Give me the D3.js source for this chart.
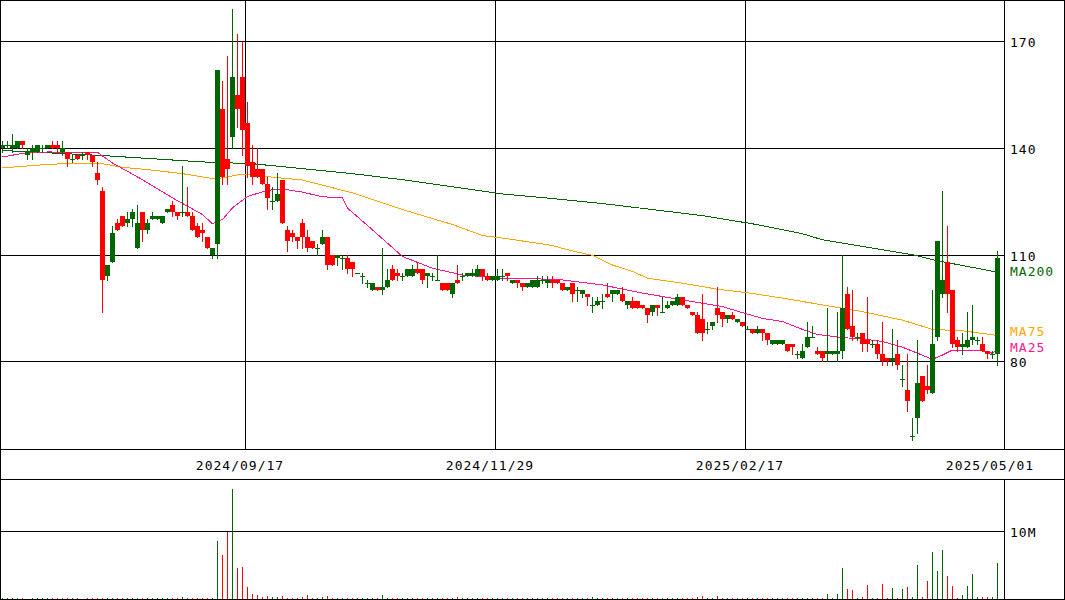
<!DOCTYPE html>
<html>
<head>
<meta charset="utf-8">
<script src="https://cdn.jsdelivr.net/npm/d3@7"></script>
<style>
  html, body { margin: 0; padding: 0; background: #fff; }
  svg { display: block; }
  text { font-family: "DejaVu Sans Mono", monospace; font-size: 13px; letter-spacing: 1px; }
</style>
</head>
<body>
<svg id="chart" width="1065" height="600"></svg>
<script>
// Daily OHLC prices (yen), oldest first
const openP = [
  140,141,140,140,142,138,139,139,140,140, 141,141,139,139,137,138,138,139,138,133,
  128,104,108,119,121,119,120,112,122,117, 120,120,119,122,124,122,122,122,121,118,
  117,115,110,113,151,137,143,155,160,147, 136,134,134,130,125,125,131,117,116,115,
  119,115,114,112,113,115,110,109,109,109, 108,105,104,102,100,101,100,101,106,105,
  104,104,104,106,106,104,104,103,102,102,  99,103,104,104,104,104,106,104,103,103,
  104,105,102,103,102,101,101,101,103,102, 103,103,102,100,102,100, 99, 99, 96, 96,
   97, 99, 99, 99, 99, 96, 97, 97, 96, 95,  94, 96, 94, 95, 96, 96, 98, 96, 94, 93,
   92, 89, 90, 95, 94, 92, 93, 91, 91, 89,  89, 88, 89, 88, 85, 85, 85, 85, 85, 82,
   81, 84, 87, 83, 83, 82, 82, 82, 83, 99,  90, 87, 88, 86, 85, 85, 82, 81, 80, 82,
   75, 72, 59, 64, 76, 73, 71, 87, 99,108, 100, 86, 84, 84, 86, 86, 85, 83, 82, 82
];
const highP = [
  142,142,144,142,142,140,141,141,141,141, 142,142,142,139,138,138,139,139,138,136,
  129,107,118,120,121,122,123,124,122,120, 122,121,121,123,125,122,135,129,122,119,
  119,115,112,162,159,166,179,172,170,153, 141,140,134,132,129,133,131,118,117,115,
  120,117,114,113,117,115,110,110,110,110, 108,105,105,103,102,101,112,106,107,106,
  105,106,107,108,106,105,105,110,102,102, 102,107,105,105,106,107,106,105,104,106,
  106,105,103,103,102,102,103,104,104,104, 104,103,102,101,102,101,100, 99, 98, 98,
   99,102,100,100,101, 97, 98, 97, 96, 95,  96, 96, 98, 97, 97, 99, 98, 96, 94, 94,
   99, 91, 91,101, 94, 93, 94, 92, 91, 90,  89, 90, 89, 88, 86, 86, 86, 85, 85, 83,
   85, 91, 90, 84, 83, 95, 83, 94,110,101, 100, 88, 88, 98, 86, 86, 91, 81, 89, 86,
   79, 82, 64, 86, 76, 79,100,114,128,118, 100, 87, 88, 94, 96, 87, 87, 83, 83,111
];
const lowP = [
  139,140,139,140,140,137,137,139,139,140, 140,139,138,135,136,137,137,137,135,130,
   94,103,108,117,118,118,118,112,114,116, 120,120,119,122,121,120,121,121,117,115,
  114,112,109,109,130,130,140,146,138,132, 130,132,130,123,123,125,119,111,114,112,
  112,111,112,110,113,106,107,107,106,105, 104,105,102,101,100,100, 99,101,103,103,
  103,104,104,105,102,101,103,103,100,100,  98,102,103,104,104,104,103,103,103,103,
  103,103,102,101,100,101,101,101,102,101, 101,102,100,100, 97, 97, 98, 96, 94, 96,
   95, 98, 97, 99, 97, 95, 95, 95, 95, 91,  93, 93, 94, 95, 96, 96, 96, 95, 93, 88,
   86, 88, 89, 91, 90, 91, 92, 91, 90, 89,  88, 88, 86, 85, 85, 85, 85, 83, 82, 81,
   81, 84, 87, 82, 80, 80, 82, 80, 81, 89,  86, 86, 83, 83, 84, 81, 79, 79, 79, 78,
   73, 66, 58, 60, 69, 71, 71, 86, 98, 94,  84, 83, 82, 84, 85, 85, 83, 81, 81, 79
];
const closeP = [
  141,141,141,142,141,139,140,141,140,141, 140,140,140,137,137,137,138,138,136,131,
  103,107,116,117,118,120,122,119,117,119, 121,121,121,123,122,121,122,121,117,115,
  116,112,112,162,132,134,160,151,145,135, 132,132,130,126,125,127,119,114,115,114,
  115,112,112,112,115,107,107,110,109,106, 106,105,104,102,102,100,101,103,103,104,
  104,106,106,105,103,105,104,103,100,100, 102,102,104,105,105,106,104,103,104,104,
  104,104,103,102,101,102,103,103,103,103, 102,102,100,101, 99,100,100, 98, 96, 97,
   97, 98,100,100, 97, 97, 95, 95, 95, 93,  96, 95, 94, 96, 97, 98, 96, 95, 93, 88,
   88, 89, 91, 93, 92, 93, 92, 92, 90, 89,  88, 89, 88, 86, 86, 86, 86, 83, 84, 82,
   83, 87, 87, 82, 81, 83, 83, 83, 95, 89,  87, 87, 85, 85, 85, 82, 80, 80, 81, 79,
   75, 69, 59, 74, 69, 72, 85,114,103, 99,  85, 84, 85, 86, 87, 86, 83, 82, 82,109
];
// Daily volume, millions of shares
const volumeM = [
  0.15,0.2,0.15,0.2,0.15,0.1,0.15,0.2,0.15,0.15, 0.2,0.15,0.15,0.2,0.15,0.15,0.1,0.15,0.2,0.15,
  0.2,0.15,0.15,0.2,0.15,0.15,0.15,0.2,0.15,0.15, 0.15,0.15,0.2,0.15,0.15,0.15,0.35,0.15,0.2,0.15,
  0.15,0.2,0.15,8.6,6.6,9.9,16.2,4.6,4.8,1.8, 0.85,0.6,0.35,0.5,0.35,0.35,0.5,0.15,0.15,0.15,
  0.35,0.6,0.15,0.15,0.35,0.5,0.15,0.2,0.15,0.15, 0.2,0.15,0.15,0.15,0.2,0.15,0.6,0.2,0.15,0.15,
  0.15,0.15,0.15,0.15,0.15,0.15,0.15,0.2,0.15,0.2, 0.15,0.35,0.15,0.15,0.15,0.15,0.15,0.15,0.15,0.15,
  0.15,0.15,0.15,0.15,0.15,0.15,0.15,0.15,0.15,0.15, 0.15,0.15,0.15,0.15,0.15,0.2,0.15,0.2,0.35,0.15,
  0.2,0.15,0.15,0.15,0.15,0.15,0.15,0.15,0.15,0.15, 0.15,0.15,0.15,0.15,0.15,0.15,0.15,0.15,0.15,0.35,
  0.5,0.15,0.15,0.5,0.15,0.15,0.15,0.15,0.15,0.15, 0.15,0.15,0.15,0.15,0.15,0.15,0.15,0.15,0.15,0.15,
  0.15,0.2,0.15,0.15,0.15,0.75,0.15,0.75,4.6,1.5, 1.35,0.2,0.35,2.1,0.2,0.2,2.2,0.2,1.65,0.2,
  1.5,1.75,0.35,5.0,0.35,2.65,7.0,4.2,7.3,3.4, 1.9,0.25,0.6,1.9,3.7,0.35,0.35,0.3,0.35,5.3
];
// Moving averages as [day index, value]
const ma25 = [[0,137.5],[4,138.5],[9,138.9],[19,138.8],[22,135.8],[28,131.1],[34,126],[40,121.3],
  [42,118.7],[44,119.9],[46,123.2],[49,126.4],[53,128.1],[56,128.5],[60,127.6],[64,126.3],[68,126],
  [69,123.1],[74,117],[80,109.5],[86,106.2],[92,104.3],[100,103.4],[104,103.4],[112,102.9],[120,101.5],
  [128,99.2],[136,97.3],[144,95.4],[148,93.7],[152,92.1],[156,91.2],[160,89.0],[163,87.6],[168,86.7],
  [172,86.3],[176,85.6],[180,84.0],[183,82.3],[186,80.6],[188,81.8],[190,83.2],[195,83.2],[198,82.3],[199,83.5]];
const ma75 = [[0,134.4],[7,135.2],[12,135.6],[18,135.8],[20,135.6],[24,134.6],[30,133.8],[36,132.8],
  [42,131.4],[44,131.6],[48,132.7],[52,132.1],[60,131],[70,127.4],[80,122.7],[90,118.5],[96,115.4],
  [100,114.7],[110,112.6],[113,111.4],[118,109.8],[122,107.1],[126,105.3],[129,103.4],[136,102],
  [143,100.3],[149,99.3],[156,97.8],[164,95.9],[172,94],[180,91.6],[186,89],[192,88.6],[199,87.3]];
const ma200 = [[0,139.3],[20,137.9],[30,137],[40,136.1],[50,135.6],[60,134.2],[70,132.8],[80,131.1],
  [90,129.1],[100,127.1],[110,125.8],[120,124.4],[130,122.7],[140,121],[150,118.7],[160,115.9],
  [164,114.2],[170,112.8],[176,111.4],[182,110],[187,108.3],[199,105.1]];

const priceTicks = [80, 110, 140, 170];
const volumeTicks = [10];
const dateLabels = ["2024/09/17", "2024/11/29", "2025/02/17", "2025/05/01"];
const dateIndex = [49, 99, 149, 199];

const UP = "#006600", DOWN = "#ff0000";
const MA_COLORS = { MA25: "#ff1493", MA75: "#ffa500", MA200: "#006600" };
// baseline offsets keep the stacked MA legends clear of each other and of the tick labels
const MA_LABEL_DY = { MA200: 4.3, MA75: 1, MA25: 3 };

const W = 1065, H = 600, plotRight = 1004;
const svg = d3.select("#chart").attr("shape-rendering", "crispEdges");

const n = openP.length;
const x = d3.scaleBand().domain(d3.range(n)).range([0, 5 * n]).padding(0);
const y = d3.scaleLinear().domain([80, 170]).range([361.4, 41.4]);
const yv = d3.scaleLinear().domain([0, 10]).range([599.4, 531.4]);
const row = v => Math.round(v);

// grid
const grid = svg.append("g").attr("stroke", "#000").attr("stroke-width", 1);
priceTicks.forEach(t => {
  grid.append("line").attr("x1", 0).attr("x2", plotRight).attr("y1", row(y(t)) + 0.5).attr("y2", row(y(t)) + 0.5);
});
dateIndex.forEach(i => {
  const gx = x(i);
  if (gx < plotRight - 20) grid.append("line").attr("x1", gx + 0.5).attr("x2", gx + 0.5).attr("y1", 0).attr("y2", 449);
});
volumeTicks.forEach(t => {
  grid.append("line").attr("x1", 0).attr("x2", plotRight).attr("y1", row(yv(t)) + 0.5).attr("y2", row(yv(t)) + 0.5);
});

// moving averages
const line = d3.line().x(d => x(d[0]) + 2.5).y(d => y(d[1]));
[["MA200", ma200], ["MA75", ma75], ["MA25", ma25]].forEach(([name, data]) => {
  svg.append("path").datum(data).attr("d", line).attr("fill", "none")
    .attr("stroke", MA_COLORS[name]).attr("stroke-width", 1);
});

// candles
const candles = svg.append("g");
d3.range(n).forEach(i => {
  const o = openP[i], c = closeP[i], h = highP[i], l = lowP[i];
  const col = c >= o ? UP : DOWN;
  const cx = x(i);
  const yh = row(y(h)), yl = row(y(l));
  candles.append("rect").attr("x", cx + 2).attr("width", 1).attr("y", yh).attr("height", Math.max(1, yl - yh + 1)).attr("fill", col);
  const yt = row(y(Math.max(o, c))), yb = row(y(Math.min(o, c)));
  candles.append("rect").attr("x", cx).attr("width", x.bandwidth()).attr("y", yt).attr("height", Math.max(1, yb - yt)).attr("fill", col);
});

// volume bars
const vol = svg.append("g");
volumeM.forEach((v, i) => {
  const col = closeP[i] >= openP[i] ? UP : DOWN;
  const top = row(yv(v));
  vol.append("rect").attr("x", x(i) + 2).attr("width", 1).attr("y", top).attr("height", Math.max(1, 599 - top)).attr("fill", col);
});

// frame and panel separators
const frame = svg.append("g").attr("stroke", "#000").attr("stroke-width", 1).attr("fill", "none");
frame.append("rect").attr("x", 0.5).attr("y", 0.5).attr("width", W - 1).attr("height", H - 1);
frame.append("line").attr("x1", 0).attr("x2", W).attr("y1", 449.5).attr("y2", 449.5);
frame.append("line").attr("x1", 0).attr("x2", W).attr("y1", 479.5).attr("y2", 479.5);
frame.append("line").attr("x1", plotRight + 0.5).attr("x2", plotRight + 0.5).attr("y1", 0).attr("y2", 449);
frame.append("line").attr("x1", plotRight + 0.5).attr("x2", plotRight + 0.5).attr("y1", 479).attr("y2", H);

// labels
const labels = svg.append("g").attr("fill", "#000");
priceTicks.forEach(t => {
  labels.append("text").attr("x", 1010).attr("y", row(y(t)) + 6).text(t);
});
volumeTicks.forEach(t => {
  labels.append("text").attr("x", 1010).attr("y", row(yv(t)) + 6).text(t + "M");
});
dateLabels.forEach((d, k) => {
  labels.append("text").attr("x", x(dateIndex[k]) - 5).attr("y", 470).attr("text-anchor", "middle").text(d);
});
[["MA200", ma200], ["MA75", ma75], ["MA25", ma25]].forEach(([name, data]) => {
  const last = data[data.length - 1][1];
  svg.append("text").attr("x", 1010).attr("y", y(last) + MA_LABEL_DY[name]).attr("fill", MA_COLORS[name]).text(name);
});
</script>
</body>
</html>
